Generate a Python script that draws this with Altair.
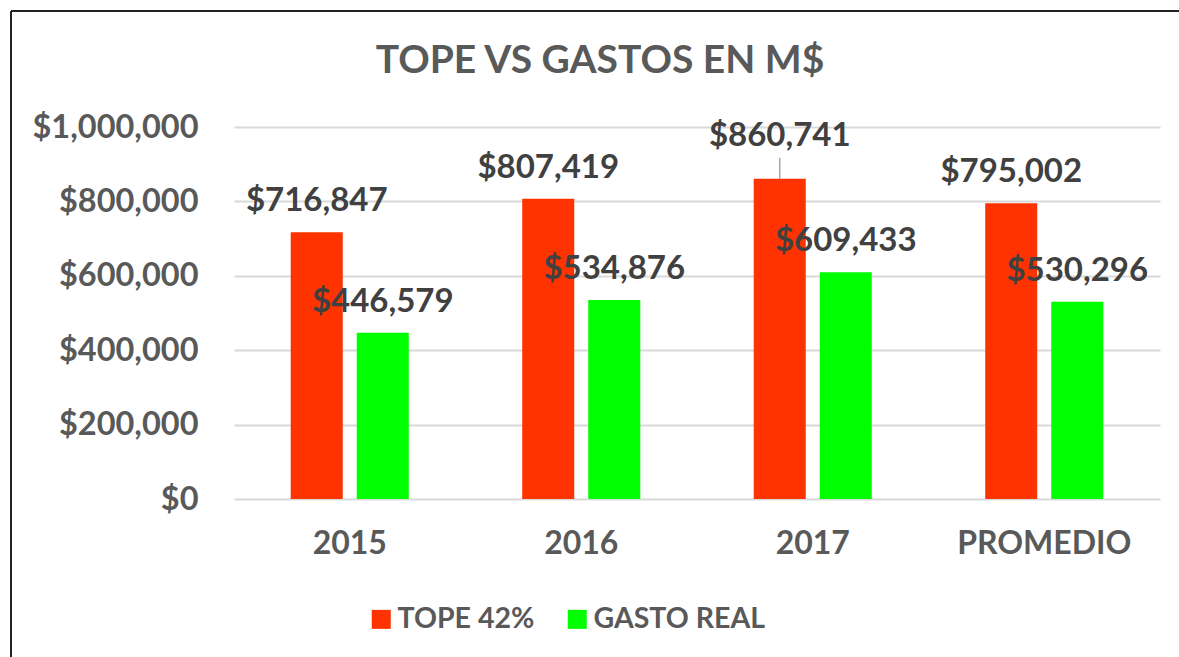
import altair as alt
import pandas as pd

categories = ["2015", "2016", "2017", "PROMEDIO"]
series_names = ["TOPE 42%", "GASTO REAL"]
tope = [716847, 807419, 860741, 795002]
gasto = [446579, 534876, 609433, 530296]
y_ticks = [0, 200000, 400000, 600000, 800000, 1000000]

rows = []
for i, c in enumerate(categories):
    rows.append({"cat": c, "serie": series_names[0], "valor": tope[i]})
    rows.append({"cat": c, "serie": series_names[1], "valor": gasto[i]})
df = pd.DataFrame(rows)

FONT = "Lato"
GRAY = "#595959"
DARK = "#404040"
RED = "#FF3300"
GREEN = "#00FF00"

x_enc = alt.X("cat:N", sort=categories, title=None,
              scale=alt.Scale(paddingInner=0.49, paddingOuter=0.245),
              axis=alt.Axis(labelAngle=0, labelFont=FONT, labelFontSize=32,
                            labelFontWeight="bold", labelColor=GRAY,
                            labelPadding=29, ticks=False, domain=False, grid=False))
xoff_enc = alt.XOffset("serie:N", sort=series_names,
                       scale=alt.Scale(paddingInner=0.212, paddingOuter=0))
y_enc = alt.Y("valor:Q", title=None,
              scale=alt.Scale(domain=[0, 1000000], nice=False),
              axis=alt.Axis(values=y_ticks, format="$,.0f", labelFont=FONT,
                            labelFontSize=32.5, labelFontWeight="bold",
                            labelColor=GRAY, labelPadding=36, ticks=False,
                            domain=False, gridColor="#D9D9D9", gridWidth=2))
color_enc = alt.Color("serie:N", sort=series_names,
                      scale=alt.Scale(domain=series_names, range=[RED, GREEN]),
                      legend=alt.Legend(title=None, orient="none", direction="horizontal",
                                        legendX=133, legendY=478, symbolType="square",
                                        symbolSize=361, symbolStrokeWidth=0,
                                        labelFont=FONT, labelFontSize=28.5,
                                        labelFontWeight="bold", labelColor=GRAY,
                                        labelLimit=0,
                                        labelOffset=2, columnPadding=28, padding=0))

base = alt.Chart(df)

bars = base.mark_bar().encode(x=x_enc, xOffset=xoff_enc, y=y_enc, color=color_enc)

label_common = dict(font=FONT, fontSize=33, fontWeight="bold", color=DARK,
                    baseline="alphabetic", align="center")

is_special = (alt.datum.cat == "2017") & (alt.datum.serie == "TOPE 42%")

labels = base.mark_text(dy=-21, **label_common).encode(
    x=alt.X("cat:N", sort=categories), xOffset=alt.XOffset("serie:N", sort=series_names),
    y="valor:Q", text=alt.Text("valor:Q", format="$,.0f")
).transform_filter(~is_special)

labels_special = base.mark_text(dy=-33, **label_common).encode(
    x=alt.X("cat:N", sort=categories), xOffset=alt.XOffset("serie:N", sort=series_names),
    y="valor:Q", text=alt.Text("valor:Q", format="$,.0f")
).transform_filter(is_special)

leader = base.mark_rule(color="#A6A6A6", strokeWidth=1.5, yOffset=-21, y2Offset=0).encode(
    x=alt.X("cat:N", sort=categories), xOffset=alt.XOffset("serie:N", sort=series_names),
    y="valor:Q", y2="valor:Q"
).transform_filter(is_special)

title = alt.Chart(pd.DataFrame({"t": ["TOPE VS GASTOS EN M$"]})).mark_text(
    font=FONT, fontSize=39, fontWeight="bold", color=GRAY,
    align="center", baseline="alphabetic"
).encode(x=alt.value(366), y=alt.value(-54), text="t:N")

border_top = alt.Chart(pd.DataFrame({"a": [0]})).mark_rule(color="#222222", strokeWidth=2).encode(
    x=alt.value(-223), x2=alt.value(960), y=alt.value(-116))
border_left = alt.Chart(pd.DataFrame({"a": [0]})).mark_rule(color="#222222", strokeWidth=2).encode(
    x=alt.value(-223), y=alt.value(-116), y2=alt.value(540))

chart = alt.layer(bars, leader, labels, labels_special, title, border_top, border_left).resolve_scale(
    x="shared", y="shared"
).properties(
    width=926, height=372,
    padding={"left": 234, "top": 127, "right": 19, "bottom": 158},
    autosize=alt.AutoSizeParams(type="none"),
    background="white",
).configure_view(stroke=None)

chart.save("out.html", embed_options={"renderer": "svg", "actions": False})
